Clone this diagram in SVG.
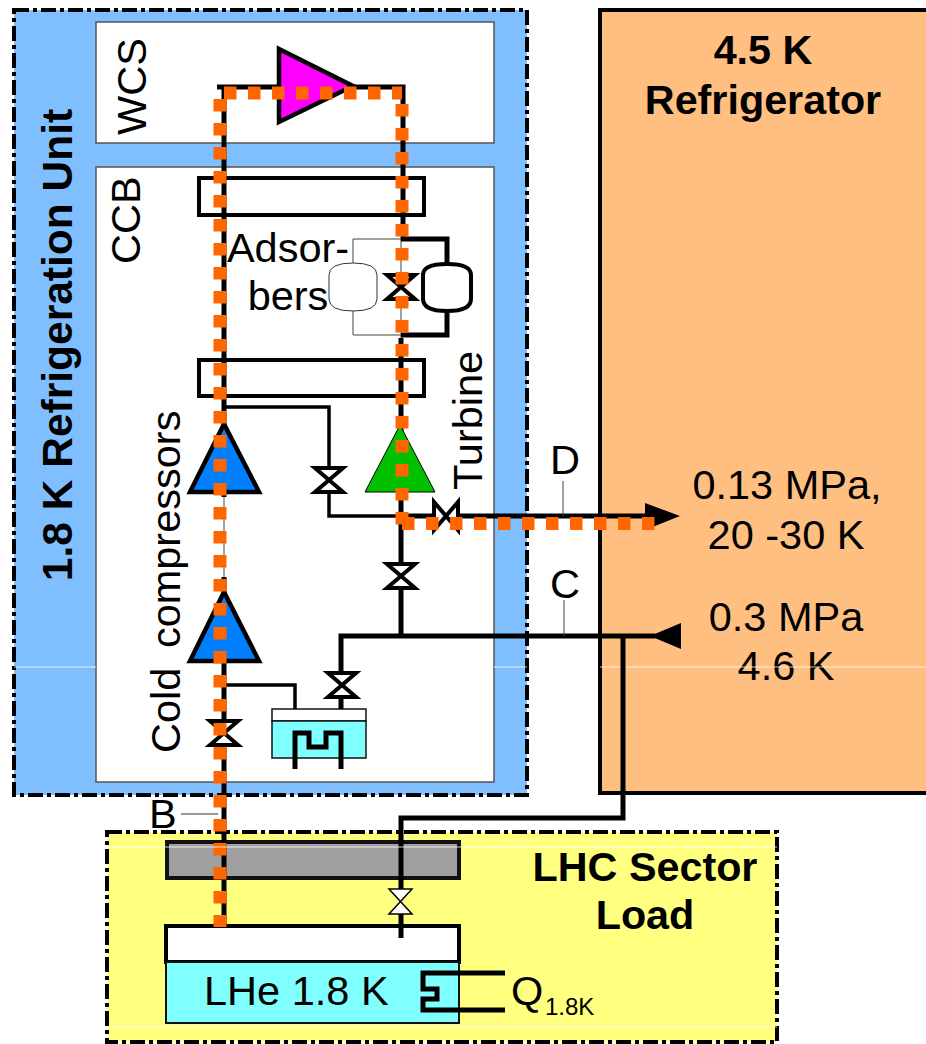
<svg xmlns="http://www.w3.org/2000/svg" width="926" height="1044" viewBox="0 0 926 1044">
<style>
text{font-family:"Liberation Sans",Arial,sans-serif;font-size:41.500px;fill:#000}
.b{font-weight:bold;font-size:41.300px}
.m{text-anchor:middle}
.frame{stroke:#000;stroke-width:4;stroke-dasharray:15 4 4 4}
.panel{fill:#fff;stroke:#555;stroke-width:1.5}
.hx{fill:#fff;stroke:#000;stroke-width:4}
.w{fill:none;stroke:#000;stroke-width:5}
.w3{fill:none;stroke:#000;stroke-width:3.5}
.t{fill:none;stroke:#444;stroke-width:1}
.o{fill:none;stroke:#f60;stroke-width:13;stroke-dasharray:12.500 11.500}
.v{fill:#fff;stroke:#000;stroke-width:4;stroke-linejoin:miter}
.tri{stroke:#000;stroke-width:4.5;stroke-linejoin:miter}
.hl{stroke:#fff;stroke-width:1;opacity:.8}
</style>
<defs>
<path id="valve" class="v" d="M-14,-12H14L-14,12H14Z"/>
</defs>
<rect width="926" height="1044" fill="#fff"/>
<g id="unit-1-8k">
<rect class="frame" x="14" y="10" width="513" height="785" fill="#80bfff"/>
<text class="b m" transform="translate(72,345) rotate(-90)" style="font-size:42.500px">1.8 K Refrigeration Unit</text>
</g>
<g id="wcs">
<rect class="panel" x="96" y="22" width="398" height="121"/>
<text transform="translate(146,135) rotate(-90)">WCS</text>
</g>
<g id="ccb">
<rect class="panel" x="96" y="167" width="398" height="615"/>
<text transform="translate(140,264) rotate(-90)">CCB</text>
<text transform="translate(180,753) rotate(-90)" style="word-spacing:8px">Cold compressors</text>
</g>
<g id="refrigerator">
<rect x="600" y="10" width="330" height="783" fill="#ffbf80" stroke="#000" stroke-width="4"/>
<text class="b m" x="763" y="64">4.5 K</text>
<text class="b m" x="763" y="114">Refrigerator</text>
<text class="m" x="787" y="499">0.13 MPa,</text>
<text class="m" x="786" y="549">20 -30 K</text>
<text class="m" x="786" y="631">0.3 MPa</text>
<text class="m" x="786" y="680">4.6 K</text>
</g>
<g id="sector-load">
<rect class="frame" x="107" y="832" width="670" height="210" fill="#ffff80"/>
<text class="b m" x="645" y="881">LHC Sector</text>
<text class="b m" x="645" y="929">Load</text>
</g>
<path d="M14,667H96M494,667H527M600,667H926" class="hl"/>
<g id="hx-top"><rect class="hx" x="199" y="178" width="225" height="37"/></g>
<g id="hx-bottom"><rect class="hx" x="199" y="360" width="225" height="36"/></g>
<g id="shield"><rect x="167" y="842" width="292" height="36" fill="#a0a0a0" stroke="#111" stroke-width="4"/></g>
<g id="bath">
<rect x="166" y="926" width="293" height="36" fill="#fff" stroke="#000" stroke-width="4"/>
<rect x="166" y="962" width="293" height="61" fill="#80ffff" stroke="#111" stroke-width="2"/>
<text x="204" y="1005">LHe 1.8 K</text>
</g>
<g id="tank">
<rect x="272" y="709" width="94" height="12" fill="#fff" stroke="#111" stroke-width="1.5"/>
<rect x="272" y="721" width="94" height="37" fill="#80ffff" stroke="#111" stroke-width="1.5"/>
</g>
<g id="connectors">
<path class="w" d="M217,87H403V240M224,87V497M224,577V926M401,338V636"/>
<path class="t" d="M224,497V577"/>
<path class="t" d="M401,240V338M401,239H353V263M353,311V335H401"/>
<path class="w" d="M401,239H447V263M447,311V335H401"/>
<path class="w3" d="M224,407H329V467M329,494V516H400M224,685H295V709"/>
<path class="w" d="M400,516H650"/>
<path class="w" d="M655,636H341V672M341,698V709"/>
<path class="w" d="M295,769V733H309V747H326V733H341V769" stroke-width="4"/>
<path class="w" d="M623,636V818H401V889M401,914V938"/>
<path class="w" stroke-width="4" d="M505,973H423V989H437V999H423V1010H505"/>
<path class="t" d="M563,481V516M564,600V636"/>
<path d="M181,814H218" stroke="#777" stroke-width="1.5" fill="none"/>
<path d="M645,503L680,516L645,530Z" fill="#000"/>
<path d="M681,623L650,636L681,649Z" fill="#000"/>
</g>
<g id="adsorber-left">
<path d="M329,275Q329,263 353,263Q377,263 377,275V299Q377,311 353,311Q329,311 329,299Z" fill="#fff" stroke="#333" stroke-width="1"/>
<text class="m" x="288" y="262">Adsor-</text>
<text class="m" x="288" y="310">bers</text>
</g>
<g id="adsorber-right">
<path d="M423,275Q423,264 447,264Q471,264 471,275V299Q471,311 447,311Q423,311 423,299Z" fill="#fff" stroke="#000" stroke-width="4"/>
</g>
<g id="wcs-compressor"><path class="tri" d="M279,49L353,86L279,122Z" fill="#f0f"/></g>
<g id="cold-compressor-1"><path class="tri" d="M224,424L190,492H259Z" fill="#0080ff"/></g>
<g id="cold-compressor-2"><path class="tri" d="M224,592L190,661H259Z" fill="#0080ff"/></g>
<g id="turbine">
<path d="M400,425L365,492H435Z" fill="#00c000" stroke="#000" stroke-width="1"/>
<text transform="translate(482,490) rotate(-90)">Turbine</text>
</g>
<g id="valve-adsorber"><use href="#valve" x="401" y="287"/></g>
<g id="valve-bypass"><use href="#valve" x="329" y="480"/></g>
<g id="valve-turbine"><use href="#valve" transform="translate(446,516) rotate(90)"/></g>
<g id="valve-c"><use href="#valve" x="401" y="576"/></g>
<g id="valve-tank"><use href="#valve" x="342" y="685"/></g>
<g id="valve-b"><use href="#valve" x="224" y="733"/></g>
<g id="valve-load"><path d="M389,889H412L389,914H412Z" fill="#fff" stroke="#000" stroke-width="1.500"/></g>
<g id="orange-flow">
<path class="o" d="M220,99V927"/>
<path class="o" d="M224,93H402"/>
<path class="o" d="M402,104V525"/>
<path class="o" d="M402,523.500H655"/>
</g>
<g id="labels">
<text x="149" y="828">B</text>
<text x="550" y="474">D</text>
<text x="550" y="598">C</text>
<text x="511" y="1005">Q</text>
<text x="545" y="1015" style="font-size:24px">1.8K</text>
</g>
<path d="M107,847H777M107,1027H777" class="hl" opacity=".6"/>
</svg>
